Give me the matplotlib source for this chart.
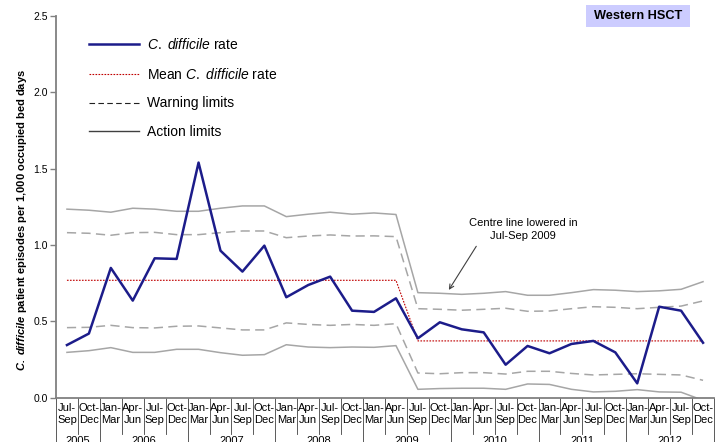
import matplotlib
matplotlib.use("Agg")
import matplotlib.pyplot as plt
from matplotlib import font_manager
from matplotlib.lines import Line2D
from matplotlib.patches import Rectangle

# quarters Jul-Sep 2005 .. Oct-Dec 2012
quarters = ["Jul-\nSep", "Oct-\nDec",
            "Jan-\nMar", "Apr-\nJun", "Jul-\nSep", "Oct-\nDec",
            "Jan-\nMar", "Apr-\nJun", "Jul-\nSep", "Oct-\nDec",
            "Jan-\nMar", "Apr-\nJun", "Jul-\nSep", "Oct-\nDec",
            "Jan-\nMar", "Apr-\nJun", "Jul-\nSep", "Oct-\nDec",
            "Jan-\nMar", "Apr-\nJun", "Jul-\nSep", "Oct-\nDec",
            "Jan-\nMar", "Apr-\nJun", "Jul-\nSep", "Oct-\nDec",
            "Jan-\nMar", "Apr-\nJun", "Jul-\nSep", "Oct-\nDec"]
years = ["2005", "2006", "2007", "2008", "2009", "2010", "2011", "2012"]
year_counts = [2, 4, 4, 4, 4, 4, 4, 4]

rate = [0.345, 0.42, 0.85, 0.636, 0.913, 0.909, 1.54, 0.963, 0.826, 0.996,
        0.658, 0.738, 0.793, 0.57, 0.562, 0.651, 0.389, 0.494, 0.448, 0.428,
        0.216, 0.339, 0.291, 0.352, 0.372, 0.297, 0.094, 0.596, 0.57, 0.36]
mean_rate = [0.769, 0.769, 0.769, 0.769, 0.769, 0.769, 0.769, 0.769, 0.769, 0.769,
             0.769, 0.769, 0.769, 0.769, 0.769, 0.769, 0.372, 0.372, 0.372, 0.372,
             0.372, 0.372, 0.372, 0.372, 0.372, 0.372, 0.372, 0.372, 0.372, 0.372]
upper_action = [1.235, 1.228, 1.215, 1.241, 1.235, 1.221, 1.221, 1.241, 1.256, 1.256,
                1.186, 1.202, 1.215, 1.202, 1.21, 1.20, 0.688, 0.684, 0.677, 0.684,
                0.695, 0.671, 0.671, 0.688, 0.708, 0.704, 0.695, 0.70, 0.71, 0.76]
upper_warning = [1.081, 1.077, 1.064, 1.081, 1.083, 1.068, 1.068, 1.081, 1.092, 1.092,
                 1.048, 1.059, 1.066, 1.059, 1.06, 1.055, 0.583, 0.579, 0.573, 0.579,
                 0.586, 0.566, 0.568, 0.583, 0.596, 0.592, 0.583, 0.592, 0.60, 0.634]
lower_warning = [0.459, 0.461, 0.474, 0.459, 0.457, 0.468, 0.47, 0.457, 0.444, 0.444,
                 0.49, 0.48, 0.474, 0.48, 0.474, 0.485, 0.162, 0.157, 0.164, 0.164,
                 0.155, 0.173, 0.173, 0.159, 0.149, 0.153, 0.157, 0.153, 0.149, 0.114]
lower_action = [0.297, 0.308, 0.328, 0.297, 0.297, 0.317, 0.317, 0.295, 0.278, 0.282,
                0.347, 0.332, 0.328, 0.332, 0.33, 0.341, 0.055, 0.06, 0.062, 0.062,
                0.055, 0.09, 0.087, 0.055, 0.038, 0.042, 0.053, 0.038, 0.036, -0.017]

# narrow Arial look-alike if present
try:
    font_manager.findfont("Liberation Sans Narrow", fallback_to_default=False)
    fam = "Liberation Sans Narrow"
except Exception:
    fam = "Liberation Sans"
plt.rcParams["font.family"] = [fam, "DejaVu Sans"]
plt.rcParams["mathtext.fontset"] = "custom"
plt.rcParams["mathtext.rm"] = fam
plt.rcParams["mathtext.it"] = fam + ":italic"
plt.rcParams["mathtext.bf"] = fam + ":bold"
plt.rcParams["mathtext.bfit"] = fam + ":italic:bold"

navy = "#1c1c8a"
grey = "#a6a6a6"

fig = plt.figure(figsize=(7.15, 4.42), dpi=100)
ax = fig.add_axes([0.0783, 0.1002, 0.9203, 0.8636])

x = list(range(len(rate)))
ax.plot(x, upper_action, color=grey, lw=1.1)
ax.plot(x, lower_action, color=grey, lw=1.1)
ax.plot(x, upper_warning, color=grey, lw=1.1, ls=(0, (6, 3.5)))
ax.plot(x, lower_warning, color=grey, lw=1.1, ls=(0, (6, 3.5)))
ax.plot(x, mean_rate, color="#c00000", lw=0.8, ls=(0, (1.5, 1.2)))
ax.plot(x, rate, color=navy, lw=1.8)

ax.set_xlim(-0.5, len(rate) - 0.5)
ax.set_ylim(0, 2.5)
ax.set_yticks([0, 0.5, 1.0, 1.5, 2.0, 2.5])
ax.set_yticklabels(["0.0", "0.5", "1.0", "1.5", "2.0", "2.5"])
ax.tick_params(axis="y", length=4, width=1, color="#808080", labelsize=7.5, pad=2)
ax.set_xticks(x)
ax.set_xticklabels(quarters, fontsize=8, linespacing=1.2)
ax.tick_params(axis="x", length=0, pad=4)
for s in ["top", "right"]:
    ax.spines[s].set_visible(False)
for s in ["left", "bottom"]:
    ax.spines[s].set_color("#808080")
    ax.spines[s].set_linewidth(1.3)

# category separators below the axis
trans = ax.get_xaxis_transform()
bounds = [0]
for c in year_counts:
    bounds.append(bounds[-1] + c)
for i in range(len(rate) + 1):
    depth = -0.15 if i in bounds else -0.095
    ax.plot([i - 0.5, i - 0.5], [0, depth], color="#404040", lw=0.6,
            transform=trans, clip_on=False)
for k, yr in enumerate(years):
    mid = (bounds[k] + bounds[k + 1] - 1) / 2
    ax.text(mid, -0.1, yr, transform=trans, ha="center", va="top", fontsize=8)

fig.text(22 / 715, 1 - 220 / 442,
         r"$\mathbfit{C.\ difficile}$ patient episodes per 1,000 occupied bed days",
         rotation=90, ha="center", va="center", fontsize=8, fontweight="bold")

handles = [Line2D([], [], color=navy, lw=1.8),
           Line2D([], [], color="#c00000", lw=0.8, ls=(0, (1.5, 1.2))),
           Line2D([], [], color="#202020", lw=0.8, ls=(0, (5, 3))),
           Line2D([], [], color="#404040", lw=1.0)]
labels = [r"$\mathit{C.\ difficile}$ rate", r"Mean $\mathit{C.\ difficile}$ rate",
          "Warning limits", "Action limits"]
ax.legend(handles, labels, loc="upper left", bbox_to_anchor=(0.031, 0.9785),
          frameon=False, fontsize=10, handlelength=3.6, handletextpad=0.58,
          labelspacing=1.07)

ax.annotate("Centre line lowered in\nJul-Sep 2009", xy=(17.41, 0.706),
            xytext=(20.79, 1.10), ha="center", va="center", fontsize=8,
            linespacing=1.35,
            arrowprops=dict(arrowstyle="->", color="#404040", lw=0.8,
                            relpos=(0.1, 0), shrinkA=2, shrinkB=0))

fig.patches.append(Rectangle((586 / 715, 1 - 27 / 442), 104 / 715, 22 / 442,
                             transform=fig.transFigure, facecolor="#ccccff",
                             edgecolor="none"))
fig.text(638 / 715, 1 - 16 / 442, "Western HSCT", ha="center", va="center",
         fontsize=9.2, fontweight="bold")

fig.savefig("out.png", dpi=100)
